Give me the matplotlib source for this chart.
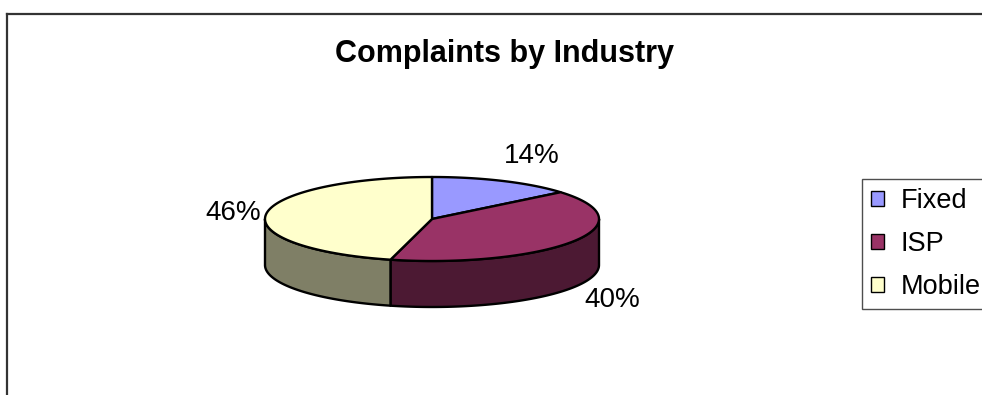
import numpy as np
import matplotlib
matplotlib.use("Agg")
import matplotlib.pyplot as plt
from matplotlib.patches import Polygon, Patch
from matplotlib.lines import Line2D

plt.rcParams['font.family'] = ['Liberation Sans', 'DejaVu Sans']

# Data
categories = ["Fixed", "ISP", "Mobile"]
shares = [14, 40, 46]
top_colors = ["#9999FF", "#993366", "#FFFFCC"]
side_colors = ["#4C4C80", "#4C1933", "#7F7F66"]
title = "Complaints by Industry"

W, H = 982, 395
fig = plt.figure(figsize=(W / 100, H / 100), dpi=100)
ax = fig.add_axes([0, 0, 1, 1])
ax.set_xlim(0, W)
ax.set_ylim(H, 0)
ax.axis("off")

# Outer chart frame (top and left edges visible)
ax.add_line(Line2D([7.5, W + 5], [13.5, 13.5], color="#333333", lw=1.6))
ax.add_line(Line2D([7.5, 7.5], [13.5, H + 5], color="#333333", lw=1.6))

# Title
ax.text(505, 54, title, ha="center", va="center", fontsize=22,
        fontweight="bold", color="black")

# 3-D pie geometry (pixel space)
cx, cy = 432, 219
a, b = 167, 42
depth = 46


def ellipse_pts(t0, t1, dy=0.0, n=120):
    t = np.radians(np.linspace(t0, t1, n))
    return np.column_stack([cx + a * np.cos(t), cy - b * np.sin(t) + dy])


fractions = np.array(shares, dtype=float) / sum(shares)
ends = 90 - 360 * np.cumsum(fractions)
starts = np.concatenate([[90], ends[:-1]])

# Outer walls: only the front half (angles between -180 and 0) is visible
for s, e, col in zip(starts, ends, side_colors):
    lo, hi = max(e, -180), min(s, 0)
    if lo >= hi:
        continue
    top = ellipse_pts(lo, hi)
    bot = ellipse_pts(hi, lo, dy=depth)
    ax.add_patch(Polygon(np.vstack([top, bot]), closed=True, facecolor=col,
                         edgecolor="black", lw=1.7, joinstyle="round"))

# Top faces
for s, e, col in zip(starts, ends, top_colors):
    arc = ellipse_pts(s, e)
    pts = np.vstack([[cx, cy], arc])
    ax.add_patch(Polygon(pts, closed=True, facecolor=col, edgecolor="black",
                         lw=1.7, joinstyle="round"))

# Percentage labels
label_offsets = [(100, -63), (180, 81), (-199, -6)]
for val, (dx, dy) in zip(shares, label_offsets):
    ax.text(cx + dx, cy + dy, f"{val}%", ha="center", va="center",
            fontsize=20, color="black")

# Legend
handles = [Patch(facecolor=c, edgecolor="black", lw=1.0) for c in top_colors]
leg = fig.legend(handles, categories, loc="upper left",
                 bbox_to_anchor=(862 / W, 1 - 179 / H), borderaxespad=0,
                 fontsize=19.5, frameon=True, fancybox=False,
                 edgecolor="#222222", borderpad=0.33, handlelength=0.48,
                 handleheight=0.5, handletextpad=0.62, labelspacing=0.63)
leg.get_frame().set_linewidth(1.0)

fig.savefig("out.png", dpi=100)
